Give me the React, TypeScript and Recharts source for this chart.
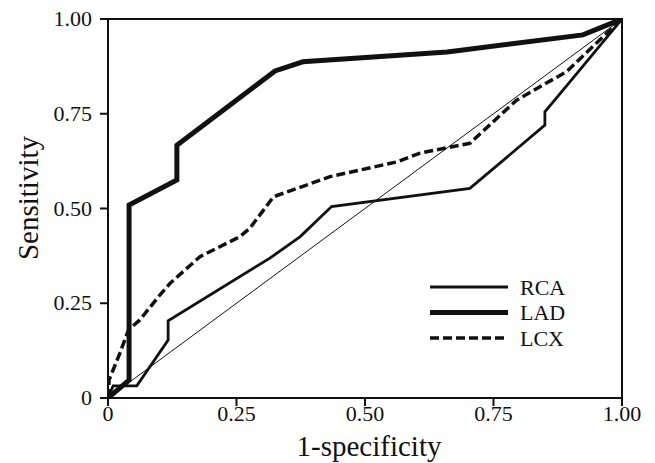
import React from "react";
import {
  LineChart,
  Line,
  XAxis,
  YAxis,
  ReferenceLine,
  ReferenceArea,
} from "recharts";

// ROC points: x = 1-specificity, y = sensitivity
const rcaX = [0, 0.01, 0.056, 0.117, 0.117, 0.315, 0.374, 0.435, 0.704, 0.85, 0.85, 0.899, 1];
const rcaY = [0, 0.032, 0.032, 0.153, 0.204, 0.369, 0.426, 0.505, 0.553, 0.72, 0.755, 0.835, 1];

const ladX = [0, 0.041, 0.041, 0.134, 0.134, 0.325, 0.379, 0.66, 0.924, 1];
const ladY = [0, 0.047, 0.509, 0.575, 0.667, 0.863, 0.887, 0.913, 0.958, 1];

const lcxX = [0, 0.002, 0.023, 0.04, 0.062, 0.098, 0.121, 0.179, 0.257, 0.276, 0.322, 0.432, 0.562, 0.607, 0.704, 0.795, 0.892, 0.977, 1];
const lcxY = [0, 0.047, 0.118, 0.18, 0.206, 0.267, 0.303, 0.373, 0.426, 0.448, 0.531, 0.584, 0.623, 0.646, 0.672, 0.786, 0.861, 0.971, 1];

const xTicks = [0, 0.25, 0.5, 0.75, 1];
const yTicks = [0, 0.25, 0.5, 0.75, 1];
const tickLabels: Record<number, string> = { 0: "0", 0.25: "0.25", 0.5: "0.50", 0.75: "0.75", 1: "1.00" };

const toPoints = (xs: number[], ys: number[]) => xs.map((x, i) => ({ x, y: ys[i] }));

const series = [
  { name: "RCA", data: toPoints(rcaX, rcaY), width: 2.8, dash: undefined as string | undefined },
  { name: "LAD", data: toPoints(ladX, ladY), width: 5, dash: undefined as string | undefined },
  { name: "LCX", data: toPoints(lcxX, lcxY), width: 3.5, dash: "9 4" },
];

const FONT = "'Liberation Serif', 'DejaVu Serif', serif";
const textStyle = { fontFamily: FONT, fontSize: 22, fill: "#111" };

function XTick(props: any) {
  const { x, y, payload } = props;
  return (
    <text x={x} y={y + 13} textAnchor="middle" style={textStyle}>
      {tickLabels[payload.value] ?? payload.value}
    </text>
  );
}

function YTick(props: any) {
  const { x, y, payload } = props;
  return (
    <text x={x} y={y + 7} textAnchor="end" style={textStyle}>
      {tickLabels[payload.value] ?? payload.value}
    </text>
  );
}

function LegendBox() {
  return (
    <svg width={180} height={90} style={{ position: "absolute", left: 430, top: 272 }}>
      {series.map((s, i) => (
        <g key={s.name}>
          <line
            x1={0}
            x2={78}
            y1={15 + i * 25.5}
            y2={15 + i * 25.5}
            stroke="#111"
            strokeWidth={s.width}
            strokeDasharray={s.dash}
          />
          <text x={90} y={22.5 + i * 25.5} style={textStyle}>
            {s.name}
          </text>
        </g>
      ))}
    </svg>
  );
}

export default function App() {
  return (
    <div style={{ position: "absolute", left: 0, top: 0, width: 655, height: 463, background: "#fff" }}>
      <LineChart width={655} height={463} margin={{ top: 19, right: 33, left: 0, bottom: 0 }}>
        <XAxis
          type="number"
          dataKey="x"
          domain={[0, 1]}
          ticks={xTicks}
          height={65}
          stroke="#111"
          strokeWidth={2}
          tickSize={8}
          tickMargin={2}
          tick={<XTick />}
          allowDataOverflow
        />
        <YAxis
          type="number"
          dataKey="y"
          domain={[0, 1]}
          ticks={yTicks}
          width={108}
          stroke="#111"
          strokeWidth={2}
          tickSize={8}
          tickMargin={8}
          tick={<YTick />}
          allowDataOverflow
        />
        <ReferenceArea x1={0} x2={1} y1={0} y2={1} fill="none" stroke="#111" strokeWidth={2} ifOverflow="visible" />
        <ReferenceLine
          segment={[{ x: 0, y: 0 }, { x: 1, y: 1 }]}
          stroke="#111"
          strokeWidth={1}
        />
        {series.map((s) => (
          <Line
            key={s.name}
            data={s.data}
            dataKey="y"
            name={s.name}
            type="linear"
            stroke="#111"
            strokeWidth={s.width}
            strokeDasharray={s.dash}
            dot={false}
            activeDot={false}
            isAnimationActive={false}
          />
        ))}
      </LineChart>
      <svg width={655} height={463} style={{ position: "absolute", left: 0, top: 0, pointerEvents: "none" }}>
        <text x={369} y={456} textAnchor="middle" style={{ ...textStyle, fontSize: 29 }}>
          1-specificity
        </text>
        <text
          x={0}
          y={0}
          transform="translate(38, 198) rotate(-90)"
          textAnchor="middle"
          style={{ ...textStyle, fontSize: 29 }}
        >
          Sensitivity
        </text>
      </svg>
      <LegendBox />
    </div>
  );
}
